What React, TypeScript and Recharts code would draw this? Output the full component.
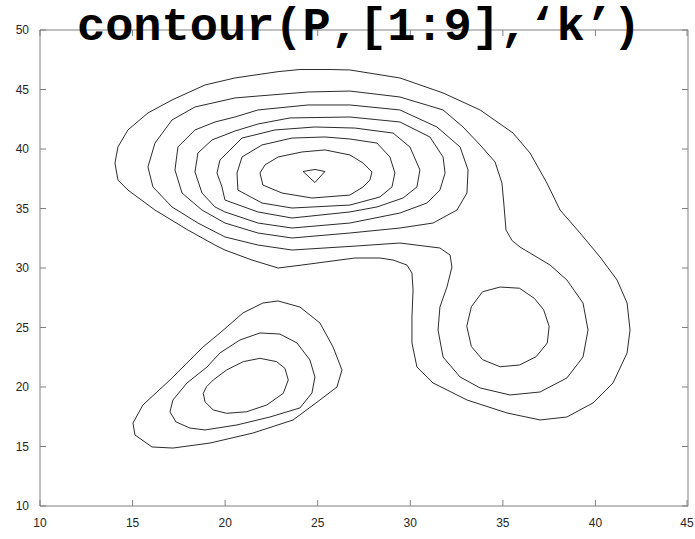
import React from 'react';
import { LineChart, Line, XAxis, YAxis, ReferenceArea } from 'recharts';

type Pt = { x: number; y: number };

const X_TICKS = [10, 15, 20, 25, 30, 35, 40, 45];
const Y_TICKS = [10, 15, 20, 25, 30, 35, 40, 45, 50];

// level 1: one loop around the upper peak and the right-hand bump
const LEVEL_1: [number, number][] = [
  [14.05, 38.82], [14.21, 40.17], [14.75, 41.6], [15.83, 43.03], [17.13, 44.12],
  [18.91, 45.38], [20.53, 45.97], [22.86, 46.5], [24.04, 46.68], [25.66, 46.68],
  [26.74, 46.64], [29.44, 45.97], [31.77, 44.71], [33.77, 43.28], [35.55, 41.34],
  [36.47, 39.66], [37.38, 37.14], [38.09, 34.87], [39.17, 32.94], [40.25, 30.92],
  [41.17, 28.99], [41.71, 27.06], [41.87, 24.79], [41.71, 22.86], [40.95, 20.34],
  [39.87, 18.66], [38.46, 17.48], [37.01, 17.23], [35.22, 17.82], [33.06, 18.91],
  [31.23, 20.34], [30.36, 21.68], [30.09, 23.7], [30.09, 25.88], [30.15, 28.15],
  [30.09, 29.58], [29.82, 30.25], [29.07, 30.67], [28.36, 30.84], [27.01, 30.84],
  [24.15, 30.25], [22.86, 30.0], [21.45, 30.67], [19.99, 31.51], [19.45, 31.93],
  [17.99, 33.19], [16.21, 34.87], [14.75, 36.55], [14.21, 37.39],
];

const LEVEL_2: [number, number][] = [
  [15.83, 38.49], [16.21, 40.5], [17.13, 42.44], [18.37, 43.53], [20.53, 44.29],
  [21.77, 44.45], [24.48, 44.79], [26.74, 44.87], [29.44, 44.37], [31.77, 43.28],
  [32.85, 41.85], [33.77, 40.34], [34.58, 38.91], [34.95, 37.14], [35.06, 35.29],
  [35.17, 33.19], [35.5, 32.3], [35.93, 31.76], [37.55, 30.25], [38.46, 28.99],
  [39.33, 27.06], [39.6, 24.79], [39.33, 22.52], [38.46, 20.76], [37.01, 19.58],
  [35.39, 19.33], [33.77, 19.92], [32.69, 20.84], [31.77, 22.52], [31.5, 24.79],
  [31.6, 26.72], [31.98, 28.4], [32.25, 30.08], [32.15, 31.09], [31.6, 31.68],
  [29.44, 32.1], [27.01, 31.84], [23.61, 31.51], [21.77, 31.93], [19.99, 32.61],
  [18.53, 33.78], [17.13, 35.13], [16.1, 36.81],
];

const LEVEL_3_TOP: [number, number][] = [
  [17.29, 38.24], [17.45, 40.17], [18.37, 41.6], [19.45, 42.27], [20.53, 42.69],
  [21.77, 43.28], [24.48, 43.7], [26.74, 43.7], [29.44, 43.28], [31.44, 41.85],
  [32.69, 40.17], [33.12, 38.24], [33.06, 36.3], [32.52, 34.87], [31.23, 33.78],
  [29.44, 33.36], [26.74, 32.94], [23.61, 32.52], [21.77, 32.94], [19.99, 33.78],
  [18.75, 34.87], [17.67, 36.3],
];

const LEVEL_3_RIGHT: [number, number][] = [
  [34.85, 28.4], [33.9, 28.0], [33.3, 26.75], [33.05, 25.1], [33.3, 23.4],
  [33.9, 22.3], [34.85, 21.7], [35.9, 21.85], [36.8, 22.55], [37.4, 23.7],
  [37.5, 25.1], [37.2, 26.5], [36.7, 27.45], [35.9, 28.3],
];

const LEVEL_4: [number, number][] = [
  [18.37, 38.07], [18.53, 39.66], [19.29, 40.76], [20.53, 41.51], [21.77, 42.1],
  [23.5, 42.61], [26.74, 42.69], [29.44, 42.27], [31.06, 41.01], [31.77, 39.33],
  [31.88, 37.98], [31.6, 36.55], [30.9, 35.46], [29.44, 34.62], [26.74, 33.78],
  [23.61, 33.36], [21.77, 33.78], [19.99, 34.71], [19.45, 35.13], [18.75, 36.3],
];

const LEVEL_5: [number, number][] = [
  [19.56, 37.98], [19.72, 39.08], [20.37, 40.08], [20.91, 40.92], [22.69, 41.6],
  [24.85, 41.85], [27.01, 41.76], [29.07, 41.34], [29.98, 40.17], [30.52, 38.24],
  [30.36, 36.81], [29.61, 35.88], [28.2, 35.13], [26.74, 34.71], [23.61, 34.2],
  [21.77, 34.71], [19.99, 35.71], [19.83, 36.81],
];

const LEVEL_6: [number, number][] = [
  [20.64, 37.98], [20.91, 39.33], [21.99, 40.34], [23.61, 40.92], [25.39, 41.01],
  [26.74, 40.84], [28.2, 40.5], [28.9, 39.33], [29.17, 37.98], [29.01, 36.81],
  [28.36, 35.97], [26.74, 35.29], [23.61, 35.04], [21.99, 35.46], [20.69, 36.55],
];

const LEVEL_7: [number, number][] = [
  [21.88, 37.98], [22.15, 38.66], [22.86, 39.33], [24.15, 39.75], [25.39, 39.92],
  [26.74, 39.5], [27.45, 38.82], [27.93, 38.07], [27.82, 37.39], [27.45, 36.81],
  [26.74, 36.13], [24.69, 35.88], [23.07, 36.3], [22.04, 36.97],
];

const LEVEL_8: [number, number][] = [
  [24.21, 38.11], [24.85, 38.28], [25.39, 38.11], [24.85, 37.18],
];

// lower-left bump: levels 1 to 3
const LOW_1: [number, number][] = [
  [15.02, 16.97], [15.13, 15.97], [16.05, 14.96], [17.18, 14.87], [19.18, 15.29],
  [21.5, 16.13], [23.67, 17.23], [25.12, 18.91], [26.04, 20.0], [26.31, 21.43],
  [25.83, 23.36], [25.12, 25.38], [24.04, 26.72], [22.86, 27.23], [22.04, 27.06],
  [20.96, 26.22], [19.72, 24.54], [18.8, 23.36], [17.02, 20.59], [15.56, 18.49],
];

const LOW_2: [number, number][] = [
  [17.02, 17.9], [17.35, 17.06], [18.1, 16.55], [18.91, 16.39], [20.64, 16.81],
  [22.42, 17.48], [24.04, 18.24], [24.69, 19.5], [24.85, 20.84], [24.58, 22.27],
  [23.88, 23.7], [22.96, 24.45], [21.88, 24.54], [20.8, 23.95], [19.72, 22.86],
  [19.02, 21.68], [17.94, 20.34], [17.18, 18.91],
];

const LOW_3: [number, number][] = [
  [18.82, 19.47], [18.91, 18.76], [19.36, 18.07], [20.08, 17.79], [21.16, 17.92],
  [22.25, 18.49], [23.14, 19.47], [23.41, 20.59], [23.23, 21.57], [22.78, 22.13],
  [21.88, 22.41], [20.98, 22.13], [20.08, 21.43], [19.36, 20.59], [19.0, 20.03],
];

const CONTOURS = [
  LEVEL_1, LEVEL_2, LEVEL_3_TOP, LEVEL_3_RIGHT, LEVEL_4, LEVEL_5,
  LEVEL_6, LEVEL_7, LEVEL_8, LOW_1, LOW_2, LOW_3,
];

// closed loop: repeat the first vertex at the end
const toLoop = (pts: [number, number][]): Pt[] =>
  [...pts, pts[0]].map(([x, y]) => ({ x, y }));

const W = 695;
const H = 539;
const PLOT = { left: 40, right: 688, top: 30, bottom: 506 };
const TICK_LEN = 6;
const FRAME = '#808080';
const LABEL_FONT = '"Liberation Sans", Arial, sans-serif';

function XTick({ x, payload }: { x?: number; payload?: { value: number } }) {
  return (
    <g>
      <line x1={x} x2={x} y1={PLOT.bottom} y2={PLOT.bottom - TICK_LEN} stroke={FRAME} />
      <line x1={x} x2={x} y1={PLOT.top} y2={PLOT.top + TICK_LEN} stroke={FRAME} />
      <text x={x} y={PLOT.bottom + 21} textAnchor="middle" fontSize={12} fill="#262626" fontFamily={LABEL_FONT}>
        {payload?.value}
      </text>
    </g>
  );
}

function YTick({ y, payload }: { y?: number; payload?: { value: number } }) {
  return (
    <g>
      <line x1={PLOT.left} x2={PLOT.left + TICK_LEN} y1={y} y2={y} stroke={FRAME} />
      <line x1={PLOT.right} x2={PLOT.right - TICK_LEN} y1={y} y2={y} stroke={FRAME} />
      <text x={PLOT.left - 11} y={(y ?? 0) + 4} textAnchor="end" fontSize={12} fill="#262626" fontFamily={LABEL_FONT}>
        {payload?.value}
      </text>
    </g>
  );
}

export default function App() {
  return (
    <div style={{ position: 'absolute', left: 0, top: 0, width: W, height: H, background: '#fff' }}>
      <LineChart
        width={W}
        height={H}
        margin={{ top: PLOT.top, right: W - PLOT.right, bottom: 0, left: 0 }}
      >
        <XAxis
          dataKey="x"
          type="number"
          domain={[10, 45]}
          ticks={X_TICKS}
          allowDataOverflow
          height={H - PLOT.bottom}
          axisLine={false}
          tickLine={false}
          tickSize={0}
          tick={<XTick />}
        />
        <YAxis
          dataKey="y"
          type="number"
          domain={[10, 50]}
          ticks={Y_TICKS}
          allowDataOverflow
          width={PLOT.left}
          axisLine={false}
          tickLine={false}
          tickSize={0}
          tick={<YTick />}
        />
        <ReferenceArea x1={10} x2={45} y1={10} y2={50} fill="#fff" fillOpacity={0} stroke={FRAME} strokeWidth={1} />
        {CONTOURS.map((c, i) => (
          <Line
            key={`c-${i}`}
            data={toLoop(c)}
            dataKey="y"
            type="linear"
            stroke="#2b2b2b"
            strokeWidth={1}
            dot={false}
            activeDot={false}
            isAnimationActive={false}
          />
        ))}
      </LineChart>
      <svg width={W} height={60} style={{ position: 'absolute', left: 0, top: 0, pointerEvents: 'none' }}>
        <text
          x={359}
          y={40}
          textAnchor="middle"
          fontSize={47}
          fontWeight="bold"
          fontFamily='"Liberation Mono", "Courier New", monospace'
          fill="#000"
        >
          contour(P,[1:9],‘k’)
        </text>
      </svg>
    </div>
  );
}
